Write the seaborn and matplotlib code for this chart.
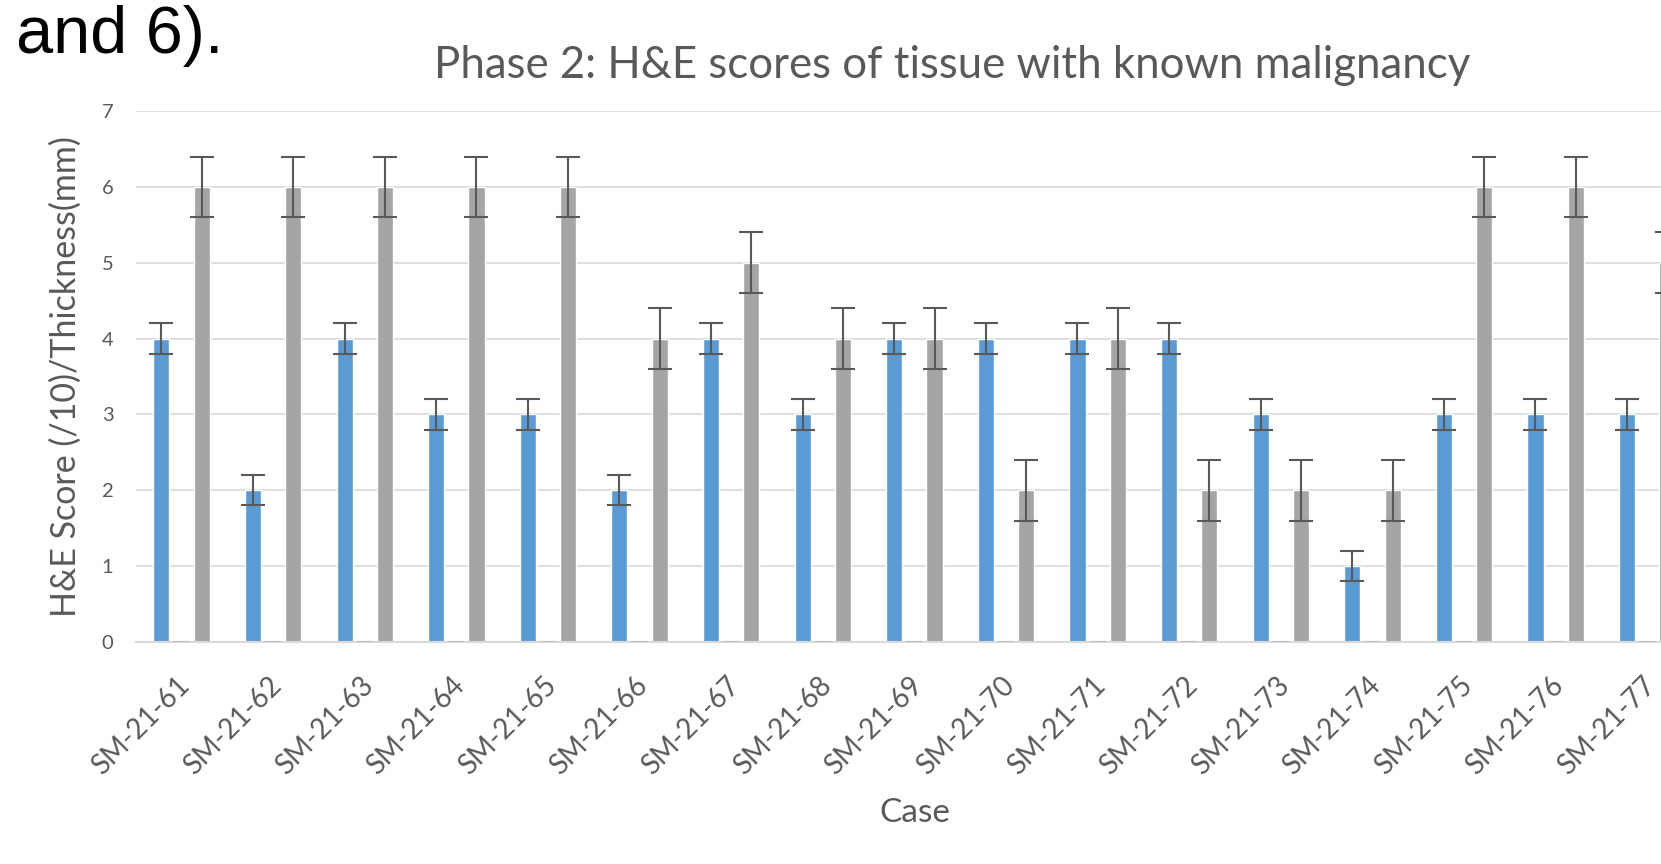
import pandas as pd
import seaborn as sns
import matplotlib.pyplot as plt
import matplotlib.transforms as mtransforms

cases = ['SM-21-61', 'SM-21-62', 'SM-21-63', 'SM-21-64', 'SM-21-65', 'SM-21-66',
         'SM-21-67', 'SM-21-68', 'SM-21-69', 'SM-21-70', 'SM-21-71', 'SM-21-72',
         'SM-21-73', 'SM-21-74', 'SM-21-75', 'SM-21-76', 'SM-21-77']
series1 = [4, 2, 4, 3, 3, 2, 4, 3, 4, 4, 4, 4, 3, 1, 3, 3, 3]
series2 = [0] * 17
series3 = [6, 6, 6, 6, 6, 4, 5, 4, 4, 2, 4, 2, 2, 2, 6, 6, 5]
err1 = 0.2
err3 = 0.4

series_names = ['Series1', 'Series2', 'Series3']
colors = ['#5B9BD5', '#ED7D31', '#A5A5A5']

rows = []
for name, vals in zip(series_names, [series1, series2, series3]):
    for c, v in zip(cases, vals):
        rows.append({'Case': c, 'Series': name, 'Value': v})
df = pd.DataFrame(rows)

sns.set_style('white')
plt.rcParams['font.family'] = ['Lato', 'DejaVu Sans']

fig = plt.figure(figsize=(16.61, 8.64), dpi=100)
ax = fig.add_axes([0.0817, 0.257, 1.0193 - 0.0817, 0.8715 - 0.257])

sns.barplot(data=df, x='Case', y='Value', hue='Series', hue_order=series_names,
            palette=colors, saturation=1, width=0.66, gap=0.2, errorbar=None,
            legend=False, ax=ax)

# zero-height middle series shows as a thin grey line
for bar in ax.containers[1]:
    bar.set_edgecolor('#BFBFBF')
    bar.set_linewidth(1.5)
    bar.set_zorder(3)

for cont, vals, e in [(ax.containers[0], series1, err1), (ax.containers[2], series3, err3)]:
    xs = [b.get_x() + b.get_width() / 2 for b in cont]
    ax.errorbar(xs, vals, yerr=e, fmt='none', ecolor='#595959', elinewidth=1.5,
                capsize=8.5, capthick=1.5, zorder=5)

ax.set_ylim(0, 7)
ax.set_xlim(-0.5, len(cases) - 0.5)
ax.set_yticks(range(0, 8))
ax.yaxis.grid(True, color='#D9D9D9', linewidth=1.2)
ax.set_axisbelow(True)
for s in ['left', 'right', 'top']:
    ax.spines[s].set_visible(False)
ax.spines['bottom'].set_color('#D9D9D9')
ax.spines['bottom'].set_linewidth(1.5)
ax.tick_params(axis='both', length=0, colors='#595959', labelsize=14.5)
ax.tick_params(axis='y', pad=16)
ax.tick_params(axis='x', labelsize=20, pad=22)
shift = mtransforms.ScaledTranslation(-5 / 100, 0, fig.dpi_scale_trans)
for lab in ax.get_xticklabels():
    lab.set_rotation(45)
    lab.set_ha('right')
    lab.set_rotation_mode('anchor')
    lab.set_transform(lab.get_transform() + shift)

ax.set_xlabel('Case', fontsize=24, color='#595959', labelpad=13)
ax.set_ylabel('H&E Score (/10)/Thickness(mm)', fontsize=24.5, color='#595959', labelpad=14)

fig.text(952 / 1661, 1 - 66 / 864, 'Phase 2: H&E scores of tissue with known malignancy',
         ha='center', va='center', fontsize=31.5, color='#595959')
fig.text(16 / 1661, 1 - 5 / 864, 'and 6).', ha='left', va='top', fontsize=48,
         color='black', family=['Liberation Sans', 'DejaVu Sans'])

fig.savefig('out.png', dpi=100)
